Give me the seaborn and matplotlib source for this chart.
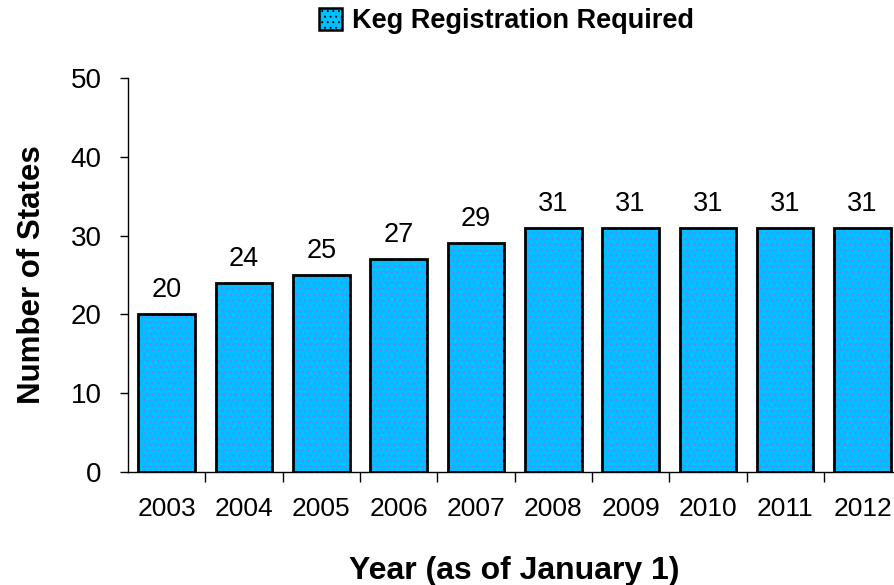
import matplotlib
matplotlib.use("Agg")
import matplotlib.pyplot as plt
from matplotlib.patches import Patch
import seaborn as sns
import pandas as pd

years = ["2003", "2004", "2005", "2006", "2007", "2008", "2009", "2010", "2011", "2012"]
states = [20, 24, 25, 27, 29, 31, 31, 31, 31, 31]
series_name = "Keg Registration Required"
y_ticks = [0, 10, 20, 30, 40, 50]

df = pd.DataFrame({"year": years, "states": states})

sns.set_theme(style="white")
plt.rcParams["font.family"] = ["Liberation Sans", "DejaVu Sans"]
plt.rcParams["hatch.linewidth"] = 0.6
plt.rcParams["text.color"] = "black"
plt.rcParams["axes.labelcolor"] = "black"

fill = "#00BFFF"
dots = "#8A6CFF"

fig = plt.figure(figsize=(8.95, 5.85), dpi=100)
ax = fig.add_axes([0.143, 0.193, 0.864, 0.674])

# dotted fill layer
sns.barplot(data=df, x="year", y="states", color=fill, saturation=1,
            width=0.73, edgecolor=dots, linewidth=0, hatch="...", ax=ax)
# black outline layer
sns.barplot(data=df, x="year", y="states", fill=False, color="black",
            width=0.73, edgecolor="black", linewidth=2.0, ax=ax)

for patch in ax.containers[0]:
    patch.set_hatch("...")
    patch.set_edgecolor(dots)

ax.bar_label(ax.containers[1], labels=[str(v) for v in states],
             padding=8, fontsize=19.5, color="black")

ax.set_ylim(0, 50)
ax.set_yticks(y_ticks)
ax.set_xlim(-0.5, 9.5)
ax.tick_params(axis="y", labelsize=20, length=6, width=1, direction="out",
               left=True, pad=13, colors="black")
ax.tick_params(axis="x", labelsize=19, length=0, pad=18, colors="black")
# tick marks between categories
ax.set_xticks([i + 0.5 for i in range(len(years))], minor=True)
ax.tick_params(axis="x", which="minor", length=7, width=1, direction="out",
               bottom=True, color="black")

for side in ["top", "right"]:
    ax.spines[side].set_visible(False)
for side in ["left", "bottom"]:
    ax.spines[side].set_color("black")
    ax.spines[side].set_linewidth(1)

ax.set_xlabel("Year (as of January 1)", fontsize=23, fontweight="bold",
              labelpad=25)
ax.set_ylabel("Number of States", fontsize=22.5, fontweight="bold", labelpad=17)

handle = Patch(facecolor=fill, edgecolor="black", hatch="...", linewidth=1.8)
fig.legend(handles=[handle], labels=[series_name], loc="center",
           bbox_to_anchor=(0.566, 0.964), frameon=False,
           prop={"weight": "bold", "size": 19.5}, handlelength=0.85,
           handleheight=0.85, handletextpad=0.4)

fig.savefig("out.png", dpi=100)
